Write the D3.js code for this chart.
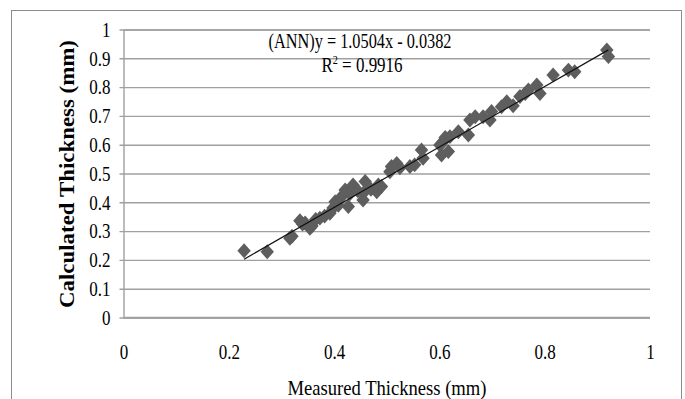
<!DOCTYPE html>
<html>
<head>
<meta charset="utf-8">
<script src="https://cdn.jsdelivr.net/npm/d3@7"></script>
<style>
  html, body { margin: 0; padding: 0; background: #fff; }
  svg { display: block; }
</style>
</head>
<body>
<div id="chart"></div>
<script>
// ---- Data ----
const measured = [0.229,0.273,0.316,0.320,0.335,0.340,0.345,0.354,0.358,0.365,0.373,0.382,0.392,0.398,0.402,0.408,0.414,0.421,0.427,0.430,0.436,0.445,0.455,0.455,0.459,0.470,0.481,0.484,0.490,0.506,0.509,0.519,0.525,0.544,0.553,0.566,0.569,0.601,0.604,0.607,0.611,0.617,0.620,0.636,0.655,0.658,0.668,0.683,0.696,0.699,0.718,0.728,0.740,0.753,0.763,0.769,0.785,0.791,0.816,0.845,0.857,0.918,0.921];
const calculated = [0.232,0.228,0.275,0.282,0.336,0.325,0.328,0.310,0.318,0.340,0.345,0.352,0.362,0.380,0.402,0.390,0.419,0.443,0.385,0.430,0.460,0.440,0.431,0.408,0.472,0.445,0.437,0.460,0.455,0.506,0.524,0.535,0.520,0.524,0.530,0.582,0.553,0.599,0.564,0.610,0.625,0.576,0.628,0.645,0.634,0.686,0.697,0.697,0.686,0.715,0.732,0.749,0.735,0.767,0.778,0.790,0.807,0.778,0.842,0.859,0.853,0.929,0.906];
const xTicks = [0, 0.2, 0.4, 0.6, 0.8, 1];
const yTicks = [0, 0.1, 0.2, 0.3, 0.4, 0.5, 0.6, 0.7, 0.8, 0.9, 1];
const slope = 1.0504, intercept = -0.0382;
const equationText = "(ANN)y = 1.0504x - 0.0382";
const r2Value = "0.9916";
const xTitle = "Measured Thickness (mm)";
const yTitle = "Calculated Thickness (mm)";

// ---- Layout ----
const W = 685, H = 399;
const svg = d3.select("#chart").append("svg").attr("width", W).attr("height", H);
svg.append("rect").attr("width", W).attr("height", H).attr("fill", "#fff");
svg.append("rect").attr("x", 11.5).attr("y", 10.5).attr("width", 670).attr("height", 420)
  .attr("fill", "none").attr("stroke", "#8c8c8c").attr("stroke-width", 1);

const x = d3.scaleLinear().domain([0, 1]).range([123.5, 650]);
const y = d3.scaleLinear().domain([0, 1]).range([317.5, 29.5]);
const font = "'Liberation Serif', 'Times New Roman', serif";
const sx = 0.85; // reference text is horizontally condensed

// gridlines + y ticks
const yAxis = d3.axisLeft(y).tickValues(yTicks).tickSize(-(650 - 123.5)).tickFormat(d3.format("~g"));
const gy = svg.append("g").attr("transform", "translate(123.5,0)").call(yAxis);
gy.select(".domain").attr("stroke", "#a0a0a0").attr("stroke-width", 1.4);
gy.selectAll(".tick line").attr("stroke", "#a0a0a0").attr("stroke-width", 1.4).attr("x1", -4);
gy.selectAll(".tick text").attr("x", 0).attr("dy", "0.34em")
  .attr("transform", `translate(-13,0) scale(${sx},1)`)
  .attr("font-family", font).attr("font-size", 20).attr("fill", "#000");

// x axis labels (no ticks)
const xAxis = d3.axisBottom(x).tickValues(xTicks).tickSize(0).tickFormat(d3.format("~g"));
const gx = svg.append("g").attr("transform", "translate(0,317.5)").call(xAxis);
gx.select(".domain").remove();
gx.selectAll(".tick text").attr("y", 0).attr("dy", "0.34em")
  .attr("transform", `translate(0,35) scale(${sx},1)`)
  .attr("font-family", font).attr("font-size", 20).attr("fill", "#000");
// x baseline
svg.append("line").attr("x1", x(0)).attr("x2", x(1)).attr("y1", y(0)).attr("y2", y(0))
  .attr("stroke", "#a0a0a0").attr("stroke-width", 1.4);

// points
const pts = measured.map((m, i) => ({ m, c: calculated[i] }));
const sym = d3.symbol().type(d3.symbolSquare).size(96);
svg.append("g").selectAll("path").data(pts).join("path")
  .attr("d", sym)
  .attr("transform", d => `translate(${x(d.m)},${y(d.c)}) scale(0.97,1.08) rotate(45)`)
  .attr("fill", "#5e5e5e");

// trend line
const x0 = d3.min(measured), x1 = d3.max(measured);
svg.append("line")
  .attr("x1", x(x0)).attr("y1", y(slope * x0 + intercept))
  .attr("x2", x(x1)).attr("y2", y(slope * x1 + intercept))
  .attr("stroke", "#111").attr("stroke-width", 1.2);

// equation
svg.append("text").attr("x", 360).attr("y", 48).attr("text-anchor", "middle")
  .attr("font-family", font).attr("font-size", 20)
  .attr("textLength", 183).attr("lengthAdjust", "spacingAndGlyphs")
  .text(equationText);
const r2 = svg.append("text").attr("transform", `translate(362,72) scale(${sx},1)`).attr("text-anchor", "middle")
  .attr("font-family", font).attr("font-size", 20);
r2.append("tspan").text("R");
r2.append("tspan").attr("dy", -8).attr("font-size", 12).text("2");
r2.append("tspan").attr("dy", 8).text(" = " + r2Value);

// axis titles
svg.append("text").attr("x", 387).attr("y", 395).attr("text-anchor", "middle")
  .attr("font-family", font).attr("font-size", 21)
  .attr("textLength", 199).attr("lengthAdjust", "spacingAndGlyphs")
  .text(xTitle);
svg.append("text").attr("transform", "translate(74,174) rotate(-90)").attr("text-anchor", "middle")
  .attr("font-family", font).attr("font-size", 20).attr("font-weight", "bold")
  .attr("textLength", 268).attr("lengthAdjust", "spacingAndGlyphs")
  .text(yTitle);
</script>
</body>
</html>
